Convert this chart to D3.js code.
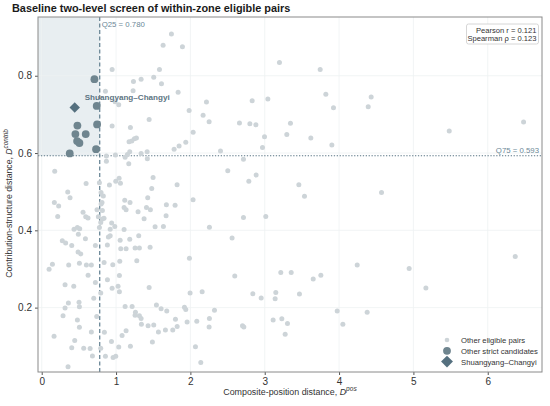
<!DOCTYPE html>
<html>
<head>
<meta charset="utf-8">
<script src="https://cdn.jsdelivr.net/npm/d3@7"></script>
<style>
  body { margin: 0; background: #fff; }
  text { font-family: "Liberation Sans", Arial, sans-serif; }
</style>
</head>
<body>
<div id="chart"></div>
<script>
// other eligible pairs: [D_pos, D_contrib]
const otherPairs = [
  [1.745,0.908],[1.633,0.879],[1.893,0.875],[0.947,0.816],[1.584,0.816],[1.234,0.785],[1.337,0.791],
  [1.507,0.796],[1.611,0.779],[0.857,0.760],[1.229,0.761],[1.835,0.757],[0.987,0.733],[1.036,0.725],
  [2.216,0.732],[1.983,0.710],[2.831,0.735],[3.042,0.740],[2.171,0.698],[2.252,0.681],[1.445,0.687],
  [0.947,0.670],[1.193,0.666],[2.660,0.678],[2.800,0.676],[2.881,0.673],[2.037,0.654],[1.274,0.639],
  [1.247,0.637],[1.175,0.629],[1.211,0.631],[2.997,0.642],[2.970,0.614],[1.938,0.628],[1.848,0.618],
  [1.781,0.610],[2.405,0.605],[1.184,0.603],[1.418,0.603],
  [3.198,0.834],[3.746,0.816],[3.822,0.752],[4.432,0.745],[3.925,0.717],[4.392,0.720],[3.346,0.677],
  [3.297,0.648],[3.620,0.639],[3.903,0.621],[5.482,0.657],[6.482,0.680],
  [0.870,0.592],[0.870,0.579],[0.991,0.595],[1.122,0.589],[1.153,0.596],[1.171,0.572],[1.337,0.599],
  [1.421,0.585],[2.714,0.584],[0.175,0.553],[2.503,0.554],[2.884,0.543],[2.786,0.527],[0.597,0.521],
  [0.776,0.523],[0.911,0.517],[0.996,0.527],[1.041,0.535],[1.059,0.522],[1.498,0.537],[1.821,0.518],
  [1.480,0.508],[0.350,0.499],[0.381,0.484],[0.798,0.498],[0.829,0.489],[1.117,0.478],[1.188,0.472],
  [1.426,0.484],[2.036,0.479],[0.811,0.472],[0.170,0.472],[3.459,0.518],[3.535,0.488],[4.571,0.498],
  [0.228,0.463],[0.215,0.436],[0.556,0.447],[0.592,0.435],[0.623,0.432],[0.435,0.403],[0.480,0.407],
  [0.511,0.404],[0.493,0.390],[0.588,0.378],[0.277,0.373],[0.322,0.367],[0.404,0.361],[0.722,0.361],
  [0.744,0.453],[0.816,0.451],[0.799,0.468],[0.762,0.435],[0.816,0.429],[0.838,0.431],[0.794,0.420],
  [0.776,0.407],[1.108,0.459],[1.135,0.453],[1.296,0.448],[1.409,0.459],[1.462,0.453],[1.377,0.430],
  [1.677,0.466],[1.673,0.438],[1.794,0.465],[1.525,0.409],[1.637,0.410],[2.256,0.408],[2.714,0.433],
  [3.014,0.436],[2.561,0.380],[0.941,0.419],[0.921,0.403],[0.983,0.410],[1.108,0.402],[1.305,0.386],
  [0.897,0.383],[0.921,0.386],[1.055,0.374],[1.184,0.377],[1.063,0.352],[1.135,0.352],[1.256,0.354],
  [1.314,0.354],[1.458,0.356],[0.883,0.362],
  [0.489,0.344],[0.525,0.339],[0.144,0.312],[0.099,0.299],[0.363,0.310],[0.507,0.315],[0.601,0.310],
  [0.668,0.310],[0.624,0.284],[0.314,0.259],[0.431,0.255],[0.722,0.265],[0.700,0.224],[0.359,0.212],
  [0.502,0.214],[0.507,0.202],[0.314,0.199],[0.287,0.179],[0.740,0.177],[0.480,0.168],[0.507,0.149],
  [0.668,0.137],[0.166,0.126],[0.444,0.115],[0.404,0.096],[0.565,0.095],[0.651,0.094],[0.682,0.075],
  [0.354,0.047],[0.794,0.095],
  [0.839,0.317],[0.956,0.311],[1.050,0.320],[1.279,0.321],[1.045,0.283],[0.884,0.272],[0.947,0.250],
  [1.027,0.255],[1.045,0.241],[0.794,0.238],[1.445,0.252],[1.987,0.328],[1.996,0.238],[2.158,0.241],
  [2.597,0.282],[2.840,0.236],[2.952,0.225],
  [1.122,0.203],[1.216,0.203],[1.261,0.188],[1.256,0.180],[1.314,0.179],[1.337,0.172],[1.341,0.157],
  [1.431,0.153],[1.507,0.155],[1.543,0.207],[1.606,0.197],[1.682,0.191],[1.570,0.137],[1.664,0.142],
  [1.763,0.142],[1.799,0.170],[1.822,0.151],[1.920,0.201],[1.938,0.195],[1.956,0.163],[2.086,0.165],
  [2.256,0.172],[2.324,0.193],[2.252,0.150],[2.068,0.099],[2.140,0.058],[2.701,0.153],[2.719,0.150],
  [0.843,0.136],[0.938,0.112],[1.135,0.140],[1.081,0.128],[1.036,0.098],[1.193,0.100],[1.489,0.111],
  [0.857,0.074],[0.960,0.071],[0.996,0.074],[3.113,0.168],
  [6.370,0.332],[4.244,0.310],[4.943,0.301],[3.216,0.291],[3.356,0.291],[3.652,0.274],[3.755,0.284],
  [5.168,0.251],[3.149,0.239],[3.140,0.223],[3.467,0.235],[3.975,0.191],[4.378,0.188],[4.051,0.157],
  [3.230,0.171],[3.306,0.159],[3.275,0.131]
];

const strictCandidates = [
  [0.709,0.791],[0.740,0.722],[0.745,0.674],[0.480,0.671],[0.453,0.649],[0.592,0.649],
  [0.476,0.631],[0.507,0.626],[0.731,0.610],[0.377,0.599]
];

const highlight = { name: 'Shuangyang–Changyi', pos: 0.444, contrib: 0.718 };

const q25 = 0.780;
const q75 = 0.593;
const pearson = 0.121;
const spearman = 0.123;

const xTicks = [0, 1, 2, 3, 4, 5, 6];
const yTicks = [0.2, 0.4, 0.6, 0.8];

const W = 550, H = 406;
const margin = { top: 17, right: 8, bottom: 34, left: 38 };

const svg = d3.select('#chart').append('svg').attr('width', W).attr('height', H);

const x = d3.scaleLinear().domain([-0.05, 6.73]).range([margin.left, W - margin.right]);
const y = d3.scaleLinear().domain([0.0334, 0.952]).range([H - margin.bottom, margin.top]);

const gridColor = '#eef1f3';
const greyPt = '#cdd4d8';
const strictCol = '#6f858f';
const hiCol = '#55707f';
const lineCol = '#6b8797';

// shaded strict region
svg.append('rect')
  .attr('x', x.range()[0]).attr('y', y.range()[1])
  .attr('width', x(q25) - x.range()[0])
  .attr('height', y(q75) - y.range()[1])
  .attr('fill', '#e8eef1');

// grid
svg.append('g').selectAll('line').data(xTicks).join('line')
  .attr('x1', d => x(d)).attr('x2', d => x(d))
  .attr('y1', y.range()[0]).attr('y2', y.range()[1])
  .attr('stroke', gridColor).attr('stroke-width', 0.8);
svg.append('g').selectAll('line').data(yTicks).join('line')
  .attr('y1', d => y(d)).attr('y2', d => y(d))
  .attr('x1', x.range()[0]).attr('x2', x.range()[1])
  .attr('stroke', gridColor).attr('stroke-width', 0.8);

// axes
const xAxis = svg.append('g')
  .attr('transform', `translate(0,${H - margin.bottom})`)
  .call(d3.axisBottom(x).tickValues(xTicks).tickSize(3).tickPadding(3).tickFormat(d3.format('d')));
const yAxis = svg.append('g')
  .attr('transform', `translate(${margin.left},0)`)
  .call(d3.axisLeft(y).tickValues(yTicks).tickSize(3).tickPadding(3).tickFormat(d3.format('.1f')));
[xAxis, yAxis].forEach(a => {
  a.select('.domain').remove();
  a.selectAll('line').attr('stroke', '#555');
  a.selectAll('text').attr('font-size', 10).attr('fill', '#333')
    .style('font-family', '"Liberation Sans", Arial, sans-serif');
});

// threshold lines
svg.append('line')
  .attr('x1', x(q25)).attr('x2', x(q25))
  .attr('y1', y.range()[0]).attr('y2', y.range()[1])
  .attr('stroke', lineCol).attr('stroke-width', 1.3).attr('stroke-dasharray', '4,2.5');
svg.append('line')
  .attr('x1', x.range()[0]).attr('x2', x.range()[1])
  .attr('y1', y(q75)).attr('y2', y(q75))
  .attr('stroke', '#5a7585').attr('stroke-width', 1.2).attr('stroke-dasharray', '1.3,1.6');

svg.append('text')
  .attr('x', x(q25) + 2).attr('y', y.range()[1] + 10)
  .attr('font-size', 7.8).attr('fill', lineCol)
  .text(`Q25 = ${q25.toFixed(3)}`);
svg.append('text')
  .attr('x', x.range()[1] - 3).attr('y', y(q75) - 2.5)
  .attr('text-anchor', 'end')
  .attr('font-size', 7.8).attr('fill', lineCol)
  .text(`Q75 = ${q75.toFixed(3)}`);

// points
svg.append('g').selectAll('circle').data(otherPairs).join('circle')
  .attr('cx', d => x(d[0])).attr('cy', d => y(d[1]))
  .attr('r', 2.5).attr('fill', greyPt);

svg.append('g').selectAll('circle').data(strictCandidates).join('circle')
  .attr('cx', d => x(d[0])).attr('cy', d => y(d[1]))
  .attr('r', 3.9).attr('fill', strictCol);

const diamond = d3.symbol().type(d3.symbolDiamond2);
svg.append('path')
  .attr('d', diamond.size(70)())
  .attr('transform', `translate(${x(highlight.pos)},${y(highlight.contrib)})`)
  .attr('fill', hiCol);

svg.append('text')
  .attr('x', x(highlight.pos) + 10).attr('y', y(highlight.contrib) - 7.5)
  .attr('font-size', 8.1).attr('font-weight', 'bold').attr('fill', '#5d7482')
  .text(highlight.name);

// frame
svg.append('rect')
  .attr('x', x.range()[0]).attr('y', y.range()[1])
  .attr('width', x.range()[1] - x.range()[0])
  .attr('height', y.range()[0] - y.range()[1])
  .attr('fill', 'none').attr('stroke', '#8a8a8a').attr('stroke-width', 1);

// title
svg.append('text')
  .attr('x', 12).attr('y', 12)
  .attr('font-size', 10.9).attr('font-weight', 'bold').attr('fill', '#1a1a1a')
  .text('Baseline two-level screen of within-zone eligible pairs');

// axis titles
const xt = svg.append('text')
  .attr('x', 290).attr('y', 395)
  .attr('text-anchor', 'middle').attr('font-size', 8.9).attr('fill', '#333');
xt.append('tspan').text('Composite-position distance, ');
xt.append('tspan').attr('font-style', 'italic').text('D');
xt.append('tspan').attr('font-style', 'italic').attr('font-size', 6.6).attr('dy', -4).text('pos');

const yt = svg.append('text')
  .attr('transform', 'translate(12,203.5) rotate(-90)')
  .attr('text-anchor', 'middle').attr('font-size', 8.7).attr('fill', '#333');
yt.append('tspan').text('Contribution-structure distance, ');
yt.append('tspan').attr('font-style', 'italic').text('D');
yt.append('tspan').attr('font-style', 'italic').attr('font-size', 6.4).attr('dy', -4).text('contrib');

// correlation box
const boxR = x.range()[1] - 3.5, boxT = y.range()[1] + 7;
svg.append('rect')
  .attr('x', boxR - 72).attr('y', boxT).attr('width', 72).attr('height', 20)
  .attr('rx', 2).attr('fill', '#fff').attr('stroke', '#ccc').attr('stroke-width', 0.8);
svg.append('text')
  .attr('x', boxR - 2).attr('y', boxT + 8.5).attr('text-anchor', 'end')
  .attr('font-size', 7.6).attr('fill', '#333')
  .text(`Pearson r = ${pearson.toFixed(3)}`);
svg.append('text')
  .attr('x', boxR - 2).attr('y', boxT + 17).attr('text-anchor', 'end')
  .attr('font-size', 7.6).attr('fill', '#333')
  .text(`Spearman ρ = ${spearman.toFixed(3)}`);

// legend
const legendItems = [
  { label: 'Other eligible pairs', kind: 'small' },
  { label: 'Other strict candidates', kind: 'strict' },
  { label: highlight.name, kind: 'diamond' }
];
const lg = svg.append('g').attr('transform', 'translate(447,340)');
legendItems.forEach((it, i) => {
  const g = lg.append('g').attr('transform', `translate(0,${i * 10.8})`);
  if (it.kind === 'small') g.append('circle').attr('r', 2.3).attr('fill', greyPt);
  else if (it.kind === 'strict') g.append('circle').attr('r', 3.9).attr('fill', strictCol);
  else g.append('path').attr('d', diamond.size(90)()).attr('fill', hiCol);
  g.append('text').attr('x', 14).attr('y', 3).attr('font-size', 7.7).attr('fill', '#333').text(it.label);
});
</script>
</body>
</html>
